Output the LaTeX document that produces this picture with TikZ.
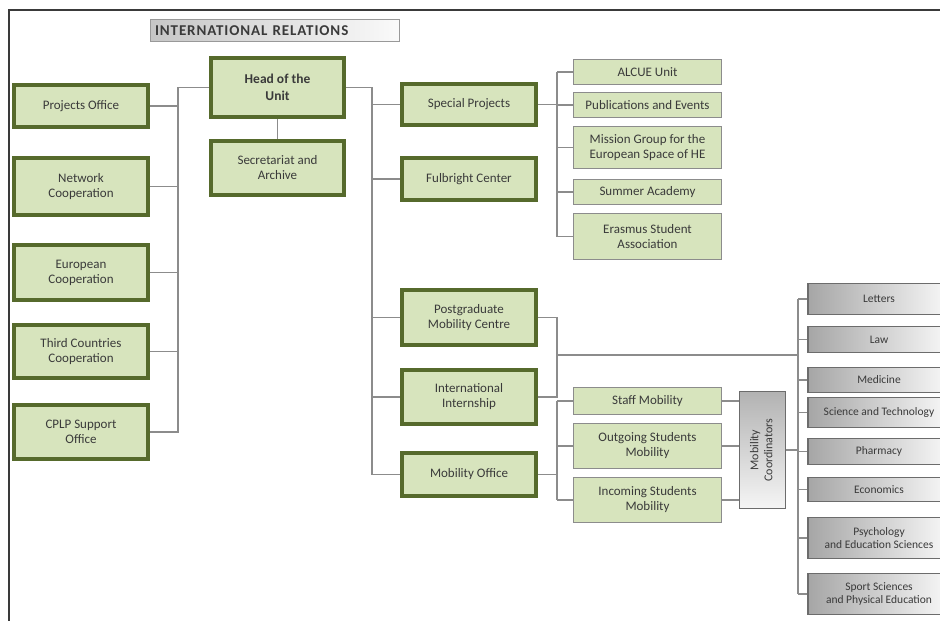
\documentclass[tikz,border=0pt]{standalone}
\usepackage{fontspec}
\usepackage{graphicx}
\setmainfont{Carlito}
\newfontfamily\titlefont[LetterSpace=6]{Carlito}
\definecolor{boxgreen}{HTML}{D7E4BD}
\definecolor{darkolive}{HTML}{566A2C}
\definecolor{linegray}{HTML}{8C8C8C}
\definecolor{txt}{HTML}{3A3A3A}
\definecolor{frame}{HTML}{3A3A3A}
\tikzset{
  base/.style={rectangle, align=center, inner sep=1pt, text=txt, font=\fontsize{13}{15}\selectfont},
  thickbox/.style={base, fill=boxgreen, draw=darkolive, line width=4pt, minimum width=134pt},
  thinbox/.style={base, fill=boxgreen, draw=linegray, line width=1.3pt, minimum width=148pt},
  facbox/.style={base, left color=gray!70, right color=gray!5, draw=gray!85!black, line width=1.3pt, minimum width=142pt, font=\fontsize{11.5}{13.5}\selectfont},
  conn/.style={draw=linegray, line width=1.3pt},
}
\begin{document}
\begin{tikzpicture}[x=1pt,y=-1pt]
\useasboundingbox (0,0) rectangle (940,621);
\draw[frame, line width=1.5pt] (9,621) -- (9,10) -- (940,10);

% title
\node[rectangle, left color=gray!45, right color=gray!4, draw=gray!80, line width=1pt,
      minimum width=249pt, minimum height=22pt, text width=240pt, align=left, inner sep=0pt,
      text=txt, font=\titlefont\fontsize{15}{16}\selectfont\bfseries] (title) at (275,30.5) {INTERNATIONAL RELATIONS};

% left column
\node[thickbox, minimum height=42pt] (po) at (81,106) {Projects Office};
\node[thickbox, minimum height=57pt] (nc) at (81,186.5) {Network\\Cooperation};
\node[thickbox, minimum height=55pt] (ec) at (81,272.5) {European\\Cooperation};
\node[thickbox, minimum height=53pt] (tc) at (81,351.5) {Third Countries\\Cooperation};
\node[thickbox, minimum height=54pt] (cplp) at (81,432) {CPLP Support\\Office};

% head
\node[thickbox, minimum width=133pt, minimum height=59pt, font=\fontsize{13.5}{17}\selectfont\bfseries] (head) at (277.5,87.5) {Head of the\\Unit};
\node[thickbox, minimum width=133pt, minimum height=54pt] (sec) at (277.5,168) {Secretariat and\\Archive};

% middle column
\node[thickbox, minimum height=41pt] (sp) at (469,104.5) {Special Projects};
\node[thickbox, minimum height=42pt] (fb) at (469,179) {Fulbright Center};
\node[thickbox, minimum height=55pt] (pg) at (469,317.5) {Postgraduate\\Mobility Centre};
\node[thickbox, minimum height=54pt] (ii) at (469,397) {International\\Internship};
\node[thickbox, minimum height=43pt] (mo) at (469,474.5) {Mobility Office};

% special projects units
\node[thinbox, minimum height=25pt] (alcue) at (647.5,72) {ALCUE Unit};
\node[thinbox, minimum height=25pt] (pub) at (647.5,105) {Publications and Events};
\node[thinbox, minimum height=42pt] (mis) at (647.5,147.5) {Mission Group for the\\European Space of HE};
\node[thinbox, minimum height=25pt] (sum) at (647.5,192) {Summer Academy};
\node[thinbox, minimum height=46pt] (eras) at (647.5,236.5) {Erasmus Student\\Association};

% mobility units
\node[thinbox, minimum height=27pt] (staff) at (647.5,401) {Staff Mobility};
\node[thinbox, minimum height=45pt] (out) at (647.5,446) {Outgoing Students\\Mobility};
\node[thinbox, minimum height=45pt] (inc) at (647.5,500) {Incoming Students\\Mobility};

% mobility coordinators
\node[base, top color=gray!60, bottom color=gray!8, draw=gray!85!black, line width=1.3pt,
      minimum width=46pt, minimum height=117pt, inner sep=0pt, font=\fontsize{12}{14}\selectfont] (mc) at (762.5,450)
      {\rotatebox{90}{\begin{tabular}{@{}c@{}}Mobility\\Coordinators\end{tabular}}};

% faculties
\node[facbox, minimum height=31pt] (let) at (879,299) {Letters};
\node[facbox, minimum height=26pt] (law) at (879,339.5) {Law};
\node[facbox, minimum height=25pt] (med) at (879,380) {Medicine};
\node[facbox, minimum height=30pt] (sci) at (879,412.5) {Science and Technology};
\node[facbox, minimum height=26pt] (pha) at (879,451.5) {Pharmacy};
\node[facbox, minimum height=24pt] (eco) at (879,489.5) {Economics};
\node[facbox, minimum height=41pt] (psy) at (879,538) {Psychology\\and Education Sciences};
\node[facbox, minimum height=41pt] (spo) at (879,594) {Sport Sciences\\and Physical Education};

% bus coordinates
\coordinate (lbus) at (178,0);
\coordinate (rbus) at (372,0);
\coordinate (sbus) at (557,0);
\coordinate (fbus) at (798,0);
\coordinate (pgj) at (557,355);

% left bus
\draw[conn] (head.west) -- (head.west -| lbus) -- (cplp.east -| lbus) -- (cplp.east);
\foreach \n in {po,nc,ec,tc} \draw[conn] (\n.east) -- (\n.east -| lbus);
\draw[conn] (head.south) -- (sec.north);

% right bus
\draw[conn] (head.east) -- (head.east -| rbus) -- (mo.west -| rbus) -- (mo.west);
\foreach \n in {sp,fb,pg,ii} \draw[conn] (\n.west) -- (\n.west -| rbus);

% special projects bus
\draw[conn] (sp.east) -- (sp.east -| sbus);
\draw[conn] (alcue.west -| sbus) -- (eras.west -| sbus);
\foreach \n in {alcue,pub,mis,sum,eras} \draw[conn] (\n.west) -- (\n.west -| sbus);

% postgraduate / internship to faculties
\draw[conn] (pg.east) -- (pg.east -| sbus) -- (ii.east -| sbus) -- (ii.east);
\draw[conn] (pgj) -- (pgj -| fbus);

% mobility bus
\draw[conn] (mo.east) -- (mo.east -| sbus);
\draw[conn] (staff.west -| sbus) -- (inc.west -| sbus);
\foreach \n in {staff,out,inc} \draw[conn] (\n.west) -- (\n.west -| sbus);
\foreach \n in {staff,out,inc} \draw[conn] (\n.east) -- (\n.east -| mc.west);
\draw[conn] (mc.east) -- (mc.east -| fbus);

% faculty bus
\draw[conn] (let.west -| fbus) -- (spo.west -| fbus);
\foreach \n in {let,law,med,sci,pha,eco,psy,spo} \draw[conn] (\n.west) -- (\n.west -| fbus);
\end{tikzpicture}
\end{document}
